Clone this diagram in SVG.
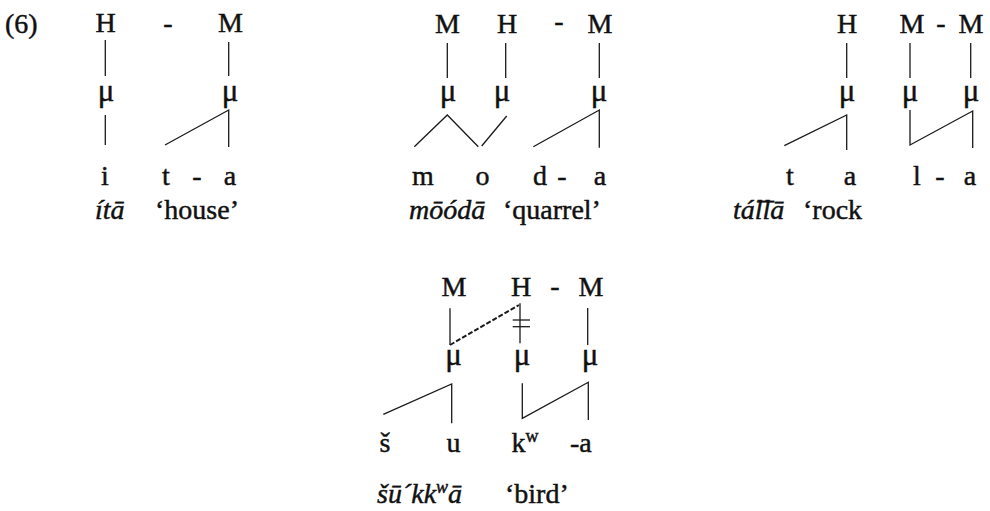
<svg xmlns="http://www.w3.org/2000/svg" width="990" height="511" viewBox="0 0 990 511">
<style>
.t{font-family:"Liberation Serif","Times New Roman",serif;font-size:28px;fill:#111;text-anchor:middle;stroke:#111;stroke-width:0.45}
.m{font-family:"Liberation Serif","Times New Roman",serif;font-size:31px;fill:#111;text-anchor:middle;stroke:#111;stroke-width:0.45}
.s{font-family:"Liberation Serif","Times New Roman",serif;font-size:28px;fill:#111;text-anchor:start;stroke:#111;stroke-width:0.45}
.i{font-family:"Liberation Serif","Times New Roman",serif;font-size:28px;fill:#111;font-style:italic;text-anchor:start;stroke:#111;stroke-width:0.45}
.ln{stroke:#1a1a1a;stroke-width:1.3;fill:none}
.dash{stroke:#1a1a1a;stroke-width:2;fill:none;stroke-dasharray:5 2}
</style>
<rect width="990" height="511" fill="#fff"/>
<text id="label" class="s" x="5" y="33">(6)</text>

<g id="ex-ita">
  <text class="t" x="105.5" y="32">H</text>
  <text class="t" x="168" y="32">-</text>
  <text class="t" x="230.5" y="32">M</text>
  <text class="m" x="106" y="101">μ</text>
  <text class="m" x="230" y="101">μ</text>
  <text class="t" x="105" y="185">i</text>
  <text class="t" x="166" y="185">t</text>
  <text class="t" x="197" y="185">-</text>
  <text class="t" x="230" y="185">a</text>
  <text class="i" x="95" y="219">ítā</text>
  <text class="s" x="155" y="219">‘house’</text>
</g>

<g id="ex-mooda">
  <text class="t" x="447.5" y="33">M</text>
  <text class="t" x="507" y="33">H</text>
  <text class="t" x="559" y="30">-</text>
  <text class="t" x="600" y="33">M</text>
  <text class="m" x="448" y="101">μ</text>
  <text class="m" x="502" y="101">μ</text>
  <text class="m" x="599" y="101">μ</text>
  <text class="t" x="423" y="185">m</text>
  <text class="t" x="482.5" y="185">o</text>
  <text class="t" x="540" y="185">d</text>
  <text class="t" x="562" y="185">-</text>
  <text class="t" x="600" y="185">a</text>
  <text class="i" x="409" y="219">mōódā</text>
  <text class="s" x="503" y="219">‘quarrel’</text>
</g>

<g id="ex-talla">
  <text class="t" x="847" y="33">H</text>
  <text class="t" x="912" y="33">M</text>
  <text class="t" x="941" y="32">-</text>
  <text class="t" x="971" y="33">M</text>
  <text class="m" x="847" y="101">μ</text>
  <text class="m" x="910" y="101">μ</text>
  <text class="m" x="971" y="101">μ</text>
  <text class="t" x="790" y="185">t</text>
  <text class="t" x="850" y="185">a</text>
  <text class="t" x="917" y="185">l</text>
  <text class="t" x="940" y="185">-</text>
  <text class="t" x="970" y="185">a</text>
  <text class="i" x="733" y="219">tá͞llā</text>
  <text class="s" x="803" y="219">‘rock</text>
</g>

<g id="ex-sukkwa">
  <text class="t" x="454" y="296">M</text>
  <text class="t" x="521" y="296">H</text>
  <text class="t" x="555" y="295">-</text>
  <text class="t" x="591" y="296">M</text>
  <text class="m" x="453.5" y="365">μ</text>
  <text class="m" x="522" y="365">μ</text>
  <text class="m" x="590" y="365">μ</text>
  <text class="t" x="385" y="452">š</text>
  <text class="t" x="453.5" y="452">u</text>
  <text class="s" x="511.5" y="452">k<tspan font-size="18" dy="-10">w</tspan></text>
  <text class="s" x="570" y="452">-a</text>
  <text class="i" x="377" y="503">šū´kk<tspan font-size="18" dy="-10">w</tspan><tspan dy="10">ā</tspan></text>
  <text class="s" x="505" y="503">‘bird’</text>
</g>

<g id="connectors">
  <line class="ln" x1="105.3" y1="40" x2="105.3" y2="76"/>
  <line class="ln" x1="105.3" y1="115" x2="105.3" y2="145"/>
  <line class="ln" x1="228.7" y1="42" x2="228.7" y2="76"/>
  <polyline class="ln" points="165,145 228.7,110 228.7,147"/>

  <line class="ln" x1="447.3" y1="43" x2="447.3" y2="78"/>
  <line class="ln" x1="505.7" y1="43" x2="505.7" y2="78"/>
  <line class="ln" x1="599.3" y1="43" x2="599.3" y2="78"/>
  <polyline class="ln" points="414.3,146.7 447.3,115 478.3,146.7"/>
  <line class="ln" x1="506.7" y1="116" x2="481.7" y2="146"/>
  <polyline class="ln" points="533.3,146.7 599.3,110 599.3,147.7"/>

  <line class="ln" x1="846.7" y1="43" x2="846.7" y2="78"/>
  <line class="ln" x1="910" y1="43" x2="910" y2="78"/>
  <line class="ln" x1="970.7" y1="43" x2="970.7" y2="78"/>
  <polyline class="ln" points="784.3,145.7 846.7,115 846.7,150"/>
  <polyline class="ln" points="910,110 910,145 972.7,111 972.7,148"/>

  <line class="ln" x1="450" y1="308.3" x2="450" y2="345"/>
  <line class="ln" x1="520" y1="303.3" x2="520" y2="343.3"/>
  <line class="ln" x1="587.7" y1="308" x2="587.7" y2="345"/>
  <line class="ln" x1="512.7" y1="320" x2="530" y2="320"/>
  <line class="ln" x1="512.7" y1="326.7" x2="530" y2="326.7"/>
  <line class="dash" x1="450" y1="345" x2="519" y2="305"/>
  <polyline class="ln" points="383.3,414.3 451.7,384 451.7,423.3"/>
  <polyline class="ln" points="522.3,383.3 522.3,418.3 588.3,382.3 588.3,420"/>
</g>
</svg>
